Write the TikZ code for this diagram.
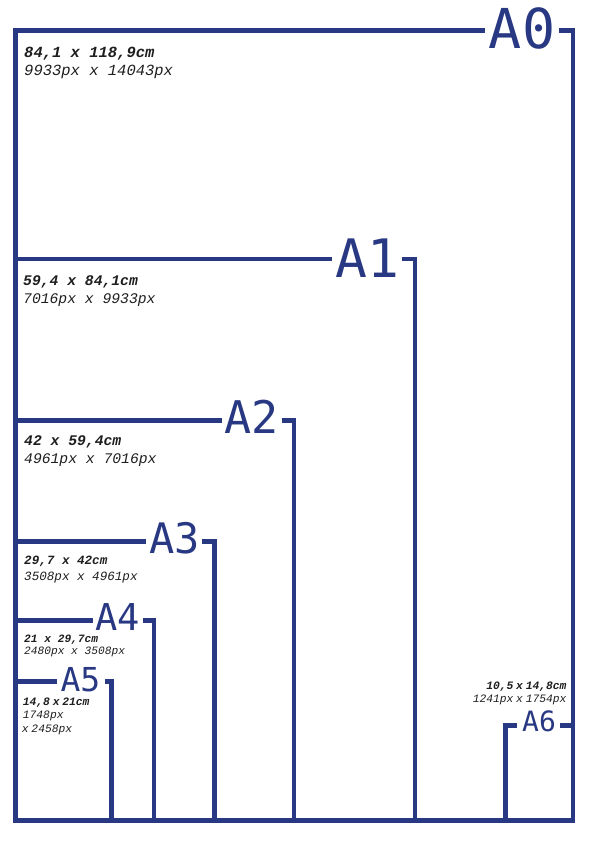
\documentclass[tikz,border=0pt]{standalone}
\usepackage{fontspec}
\setmonofont{Liberation Mono}
\newfontfamily\labfont{DejaVu Sans Mono}
\definecolor{navy}{RGB}{40,56,130}
\definecolor{inkc}{RGB}{30,30,30}
\newcommand\nsp{\hspace{2.8pt}}
\begin{document}
\begin{tikzpicture}[x=1pt,y=-1pt,
  frame/.style={draw=navy,line width=4.9pt,line join=miter},
  big/.style={inner sep=0pt,anchor=base,text=navy,text depth=0pt},
  dim/.style={inner sep=0pt,anchor=base west,text=inkc},
  dimr/.style={inner sep=0pt,anchor=base east,text=inkc}]
\useasboundingbox (0,0) rectangle (590,841);

% size labels
\node[big,font=\labfont\fontsize{55}{55}\selectfont] (a0) at (522,48.3) {A0};
\node[big,font=\labfont\fontsize{53}{53}\selectfont] (a1) at (367,277.5) {A1};
\node[big,font=\labfont\fontsize{45}{45}\selectfont] (a2) at (251.7,433) {A2};
\node[big,font=\labfont\fontsize{42}{42}\selectfont] (a3) at (175,553) {A3};
\node[big,font=\labfont\fontsize{37}{37}\selectfont] (a4) at (117.5,630) {A4};
\node[big,font=\labfont\fontsize{33}{33}\selectfont] (a5) at (80.5,691) {A5};
\node[big,font=\labfont\fontsize{28}{28}\selectfont] (a6) at (539,731) {A6};

% frames
\draw[frame] (485,30.8) -- (15.5,30.8) -- (15.5,820.5) -- (573,820.5) -- (573,30.8) -- (559,30.8);
\draw[frame] (15.5,259) -- (331.7,259);
\draw[frame] (401.7,259) -- (415,259) -- (415,820.5);
\draw[frame] (15.5,420.5) -- (221.7,420.5);
\draw[frame] (281.7,420.5) -- (294,420.5) -- (294,820.5);
\draw[frame] (15.5,541.5) -- (146,541.5);
\draw[frame] (201.7,541.5) -- (214.5,541.5) -- (214.5,820.5);
\draw[frame] (15.5,620.5) -- (92.7,620.5);
\draw[frame] (143.3,620.5) -- (154,620.5) -- (154,820.5);
\draw[frame] (15.5,681.5) -- (57.3,681.5);
\draw[frame] (105,681.5) -- (111.5,681.5) -- (111.5,820.5);
\draw[frame] (505.5,820.5) -- (505.5,725.8) -- (516.7,725.8);
\draw[frame] (560,725.8) -- (573,725.8);

% dimensions
\node[dim,font=\ttfamily\fontsize{15.5}{18}\selectfont] (t0a) at (24,57) {\textbf{\textit{84,1 x 118,9cm}}};
\node[dim,font=\ttfamily\fontsize{15.5}{18}\selectfont] (t0b) at (24,75) {\textit{9933px x 14043px}};
\node[dim,font=\ttfamily\fontsize{14.7}{17}\selectfont] (t1a) at (23,285) {\textbf{\textit{59,4 x 84,1cm}}};
\node[dim,font=\ttfamily\fontsize{14.7}{17}\selectfont] (t1b) at (23,303) {\textit{7016px x 9933px}};
\node[dim,font=\ttfamily\fontsize{14.7}{17}\selectfont] (t2a) at (24,445) {\textbf{\textit{42 x 59,4cm}}};
\node[dim,font=\ttfamily\fontsize{14.7}{17}\selectfont] (t2b) at (24,463) {\textit{4961px x 7016px}};
\node[dim,font=\ttfamily\fontsize{12.6}{15}\selectfont] (t3a) at (24,564) {\textbf{\textit{29,7 x 42cm}}};
\node[dim,font=\ttfamily\fontsize{12.6}{15}\selectfont] (t3b) at (24,580) {\textit{3508px x 4961px}};
\node[dim,font=\ttfamily\fontsize{11.2}{13}\selectfont] (t4a) at (24,642) {\textbf{\textit{21 x 29,7cm}}};
\node[dim,font=\ttfamily\fontsize{11.2}{13}\selectfont] (t4b) at (24,654) {\textit{2480px x 3508px}};
\node[dim,font=\ttfamily\fontsize{11.3}{13}\selectfont] (t5a) at (22.7,705) {\textbf{\textit{14,8\nsp x\nsp 21cm}}};
\node[dim,font=\ttfamily\fontsize{11.3}{13}\selectfont] (t5b) at (22.7,718) {\textit{1748px}};
\node[dim,font=\ttfamily\fontsize{11.3}{13}\selectfont] (t5c) at (21.7,732) {\textit{x\nsp 2458px}};
\node[dimr,font=\ttfamily\fontsize{11.3}{13}\selectfont] (t6a) at (566.7,689) {\textbf{\textit{10,5\nsp x\nsp 14,8cm}}};
\node[dimr,font=\ttfamily\fontsize{11.3}{13}\selectfont] (t6b) at (566.7,702) {\textit{1241px\nsp x\nsp 1754px}};
\end{tikzpicture}
\end{document}
